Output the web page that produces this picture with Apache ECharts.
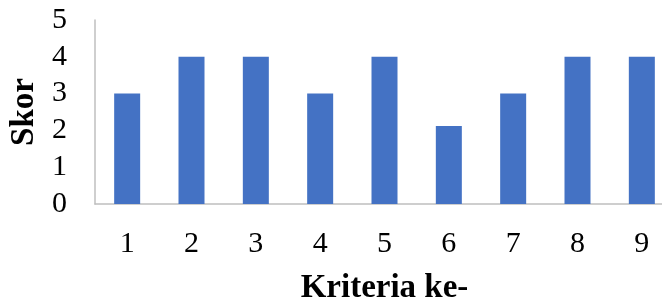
<!DOCTYPE html>
<html>
<head>
<meta charset="utf-8">
<script src="https://cdn.jsdelivr.net/npm/echarts@6/dist/echarts.min.js"></script>
<style>
  html, body { margin: 0; padding: 0; background: #fff; }
  #chart { width: 662px; height: 302px; }
</style>
</head>
<body>
<div id="chart"></div>
<script>
const categories = ['1', '2', '3', '4', '5', '6', '7', '8', '9']
const scores = [3, 4, 4, 3, 4, 2.12, 3, 4, 4]
const yTicks = [0, 1, 2, 3, 4, 5]

const font = '"Liberation Serif", "Times New Roman", serif'
const chart = echarts.init(document.getElementById('chart'))

chart.setOption({
  animation: false,
  grid: {
    left: 95,
    right: -12,
    top: 20,
    bottom: 98,
    outerBoundsMode: 'none',
  },
  xAxis: {
    type: 'category',
    data: categories,
    name: 'Kriteria ke-',
    nameLocation: 'middle',
    nameGap: 68,
    nameTextStyle: { fontFamily: font, fontSize: 33, fontWeight: 'bold', color: '#000' },
    axisLine: { lineStyle: { color: '#bfbfbf', width: 1.5 } },
    axisTick: { show: false },
    axisLabel: { fontFamily: font, fontSize: 30, color: '#000', margin: 25 },
  },
  yAxis: {
    type: 'value',
    min: yTicks[0],
    max: yTicks[yTicks.length - 1],
    interval: 1,
    name: 'Skor',
    nameLocation: 'middle',
    nameRotate: 90,
    nameGap: 47,
    nameTextStyle: { fontFamily: font, fontSize: 33, fontWeight: 'bold', color: '#000' },
    axisLine: { show: true, lineStyle: { color: '#bfbfbf', width: 1.5 } },
    axisTick: { show: false },
    splitLine: { show: false },
    axisLabel: { fontFamily: font, fontSize: 30, color: '#000', margin: 28 },
  },
  series: [
    {
      type: 'bar',
      data: scores,
      barWidth: 26,
      itemStyle: { color: '#4472c4' },
    },
  ],
})
</script>
</body>
</html>
